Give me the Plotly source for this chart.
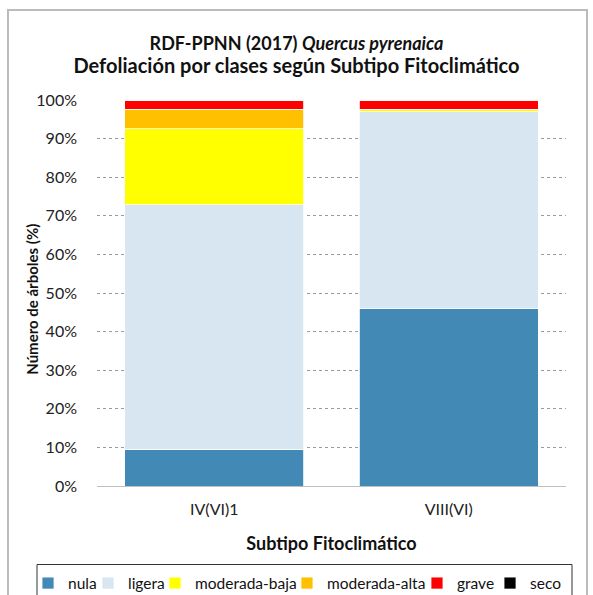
import plotly.graph_objects as go

categories = ["IV(VI)1", "VIII(VI)"]
nula = [9.5, 46.1]
ligera = [63.4, 50.9]
moderada_baja = [19.6, 0.6]
moderada_alta = [5.1, 0.0]
grave = [2.4, 2.4]
seco = [0.0, 0.0]

series_names = ["nula", "ligera", "moderada-baja", "moderada-alta", "grave", "seco"]
series_values = [nula, ligera, moderada_baja, moderada_alta, grave, seco]
series_colors = ["#4289B6", "#D7E6F1", "#FFFF00", "#FFC000", "#FF0000", "#000000"]

y_ticks = list(range(0, 101, 10))
y_ticktext = [f"{v}%" for v in y_ticks]

FONT = "Lato"

# legend entry anchors (paper x), one legend per entry to mimic spacing
legend_ids = ["legend", "legend2", "legend3", "legend4", "legend5", "legend6"]
legend_x = [-0.1471, -0.0192, 0.1237, 0.4051, 0.6823, 0.8380]

fig = go.Figure()
for name, vals, col, lid in zip(series_names, series_values, series_colors, legend_ids):
    fig.add_trace(go.Bar(
        x=categories, y=vals, name=name, legend=lid,
        marker=dict(color=col, line=dict(color="white", width=0.8)),
    ))

legend_layouts = {}
for lid, lx in zip(legend_ids, legend_x):
    legend_layouts[lid] = dict(
        orientation="h", x=lx, xanchor="left", y=-0.2526, yanchor="middle",
        borderwidth=0, bgcolor="rgba(0,0,0,0)",
        font=dict(family=FONT, size=15.5, color="#111111"),
        itemwidth=30,
    )

fig.update_layout(
    width=593, height=595,
    barmode="stack", bargap=0.235,
    paper_bgcolor="white", plot_bgcolor="white",
    margin=dict(l=97, r=27, t=100, b=109, autoexpand=False),
    font=dict(family=FONT, size=14, color="#222222"),
    title=dict(
        text="<b>RDF-PPNN (2017) <i>Quercus pyrenaica</i><br>"
             "<span style='font-size:20px'>Defoliación por clases según Subtipo Fitoclimático</span></b>",
        x=0.5, xanchor="center", y=0.9168, yanchor="middle",
        font=dict(family=FONT, size=18, color="#111111"),
    ),
    showlegend=True,
    xaxis=dict(
        showline=True, linecolor="#BFBFBF", linewidth=1,
        ticks="", tickfont=dict(size=16, color="#222222"),
        ticklabelstandoff=9,
        title=dict(text="<b>Subtipo Fitoclimático</b>", font=dict(size=18, color="#111111"), standoff=20),
    ),
    yaxis=dict(
        range=[0, 100], tickvals=y_ticks, ticktext=y_ticktext,
        showgrid=True, gridcolor="#9A9A9A", griddash="dot", gridwidth=1,
        zeroline=False, showline=False, ticks="",
        tickfont=dict(size=16, color="#222222"),
        ticklabelstandoff=19,
    ),
    annotations=[dict(
        text="<b>Número de árboles (%)</b>", textangle=-90,
        xref="paper", yref="paper", x=-0.1386, y=0.485, xanchor="center", yanchor="middle",
        showarrow=False, font=dict(family=FONT, size=15, color="#111111"),
    )],
    shapes=[
        dict(type="rect", xref="paper", yref="paper",
             x0=-0.1898, x1=1.0448, y0=-0.4, y1=1.2332,
             line=dict(color="#BBBBBB", width=2), fillcolor="rgba(0,0,0,0)", layer="below"),
        dict(type="rect", xref="paper", yref="paper",
             x0=-0.1279, x1=1.0128, y0=-0.4, y1=-0.2034,
             line=dict(color="#333333", width=1), fillcolor="rgba(0,0,0,0)", layer="below"),
    ],
    **legend_layouts,
)

fig.write_html("out.html", config={"displayModeBar": False},
               post_script="document.body.style.margin='0';")
